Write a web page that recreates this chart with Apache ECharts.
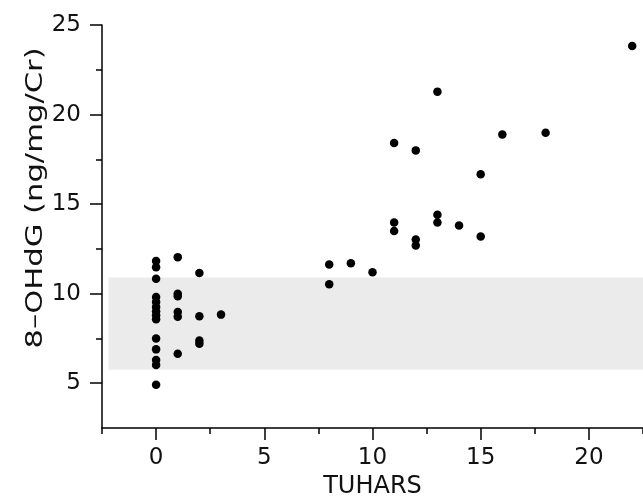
<!DOCTYPE html>
<html>
<head>
<meta charset="utf-8">
<script src="https://cdn.jsdelivr.net/npm/echarts@6/dist/echarts.min.js"></script>
<style>
html,body{margin:0;padding:0;background:#fff;}
#chart{width:643px;height:504px;}
</style>
</head>
<body>
<div id="chart"></div>
<script>
// Data
var tuhars = [0,0,0,0,0,0,0,0,0,0,0,0,0,0,
              1,1,1,1,1,1,
              2,2,2,2,
              3,
              8,8,9,10,
              11,11,11,12,12,12,13,13,13,14,15,15,16,18,22];
var ohdg   = [11.82,11.48,10.83,9.82,9.54,9.26,9.02,8.79,8.57,7.5,6.89,6.29,6.02,4.91,
              12.04,10.0,9.85,8.98,8.71,6.65,
              11.15,8.74,7.39,7.2,
              8.83,
              11.63,10.52,11.7,11.2,
              18.41,13.98,13.5,18.0,13.02,12.69,21.28,14.41,13.98,13.8,16.67,13.19,18.89,18.98,23.83];
var xMajorTicks = [0,5,10,15,20];
var xMinorTicks = [-2.5,2.5,7.5,12.5,17.5,22.5];
var yMajorTicks = [5,10,15,20,25];
var yMinorTicks = [7.5,12.5,17.5,22.5];
var bandRange = {xFrom:-2.2, xTo:22.5, yLow:5.75, yHigh:10.9};
var xTitle = 'TUHARS';
var yTitle = '8\u2013OHdG (ng/mg/Cr)';

var points = tuhars.map(function(x,i){return [x, ohdg[i]];});
var FONT = 'DejaVu Sans';
var lineStyle = {color:'#000', width:1.5};

var chart = echarts.init(document.getElementById('chart'), null, {renderer:'canvas'});
chart.setOption({
  animation:false,
  backgroundColor:'#fff',
  grid:{left:102, top:25, width:542, height:405, containLabel:false},
  xAxis:[{
    type:'value', min:-2.5, max:22.5, position:'bottom',
    name:xTitle, nameLocation:'middle', nameGap:47,
    nameTextStyle:{fontFamily:FONT, fontSize:24, color:'#111'},
    axisLine:{show:true, onZero:false, lineStyle:lineStyle},
    axisTick:{show:true, length:12, lineStyle:lineStyle, customValues:xMajorTicks},
    axisLabel:{show:true, margin:19, fontFamily:FONT, fontSize:23, color:'#111', customValues:xMajorTicks},
    splitLine:{show:false}
  },{
    type:'value', min:-2.5, max:22.5, position:'bottom',
    axisLine:{show:false, onZero:false},
    axisTick:{show:true, length:6, lineStyle:lineStyle, customValues:xMinorTicks},
    axisLabel:{show:false},
    splitLine:{show:false}
  }],
  yAxis:[{
    type:'value', min:2.5, max:25, position:'left',
    axisLine:{show:true, onZero:false, lineStyle:lineStyle},
    axisTick:{show:true, length:12, lineStyle:lineStyle, customValues:yMajorTicks},
    axisLabel:{show:true, margin:21, fontFamily:FONT, fontSize:23, color:'#111', customValues:yMajorTicks},
    splitLine:{show:false}
  },{
    type:'value', min:2.5, max:25, position:'left',
    axisLine:{show:false, onZero:false},
    axisTick:{show:true, length:6, lineStyle:lineStyle, customValues:yMinorTicks},
    axisLabel:{show:false},
    splitLine:{show:false}
  }],
  graphic:[{
    type:'text', x:36, y:198, rotation:Math.PI/2, scaleX:1.33,
    style:{text:yTitle, fontFamily:FONT, fontSize:23, fill:'#111', align:'center', verticalAlign:'middle'}
  }],
  series:[{
    type:'scatter', xAxisIndex:0, yAxisIndex:0,
    data:points, symbol:'circle', symbolSize:8.5,
    itemStyle:{color:'#000', opacity:1},
    markArea:{
      silent:true,
      itemStyle:{color:'#ebebeb', opacity:1},
      data:[[{coord:[bandRange.xFrom, bandRange.yLow]},{coord:[bandRange.xTo, bandRange.yHigh]}]]
    }
  }]
});
</script>
</body>
</html>
